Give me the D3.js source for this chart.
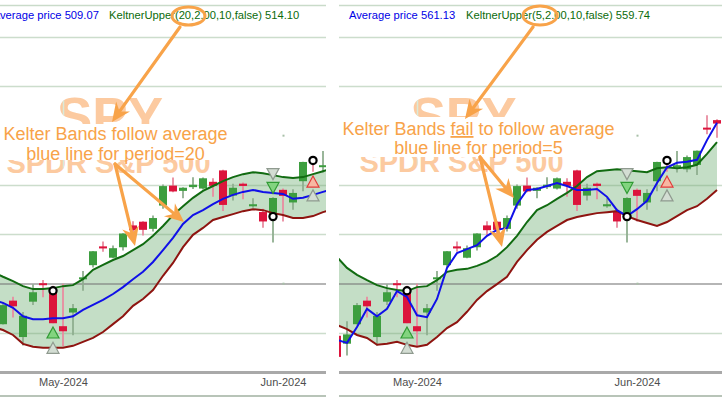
<!DOCTYPE html>
<html><head><meta charset="utf-8">
<script src="https://cdn.jsdelivr.net/npm/d3@7"></script>
<style>
html,body{margin:0;padding:0;background:#fff;}
svg{display:block;}
text{font-family:"Liberation Sans",Arial,sans-serif;}
</style></head><body>
<svg id="c" width="722" height="398"></svg>
<script>
// ---------- DATA (SPY daily) ----------
const dates = ["2024-04-19","2024-04-22","2024-04-23","2024-04-24","2024-04-25","2024-04-26","2024-04-29","2024-04-30",
"2024-05-01","2024-05-02","2024-05-03","2024-05-06","2024-05-07","2024-05-08","2024-05-09","2024-05-10","2024-05-13","2024-05-14",
"2024-05-15","2024-05-16","2024-05-17","2024-05-20","2024-05-21","2024-05-22","2024-05-23","2024-05-24","2024-05-28","2024-05-29",
"2024-05-30","2024-05-31","2024-06-03","2024-06-04","2024-06-05","2024-06-06","2024-06-07","2024-06-10","2024-06-11","2024-06-12","2024-06-13"];
const openP  = [499.44,497.83,501.78,506.56,499.18,506.35,510.09,508.56,501.38,504.15,511.16,513.75,517.56,515.26,517.38,521.81,522.56,521.11,525.83,529.88,528.81,529.57,529.28,530.65,532.96,527.85,530.27,525.68,524.52,523.59,529.02,526.46,530.77,534.98,533.66,533.18,534.07,541.63,543.15];
const highP  = [500.46,502.38,506.09,507.37,504.27,509.88,510.75,509.56,510.00,505.89,512.55,516.61,518.57,517.74,520.21,522.64,522.67,523.83,530.08,531.52,529.52,531.56,531.52,531.38,533.07,530.27,530.51,527.31,525.20,527.50,529.31,529.15,534.69,535.42,536.89,535.99,537.01,544.12,543.33];
const lowP   = [493.86,495.43,501.70,503.13,497.49,505.70,507.25,501.98,497.30,499.55,508.56,513.30,516.45,515.14,516.71,519.59,519.74,520.56,525.18,528.54,527.32,529.17,529.07,527.60,524.72,526.88,527.11,525.37,521.33,518.36,522.60,524.96,528.73,532.68,532.54,532.57,532.05,540.30,539.59];
const closeP = [495.16,499.72,505.65,505.41,503.49,508.26,510.06,501.98,500.35,505.03,511.29,516.57,517.14,517.19,520.17,520.84,520.91,523.30,529.78,528.69,529.45,530.06,531.36,529.83,525.96,529.44,529.81,526.10,522.61,527.37,527.80,528.39,534.67,534.66,534.01,535.66,536.95,541.36,542.45];

// period 20 panel (left)
const avg20   = [null,506.7,506.1,505.1,503.4,502.8,502.8,503.0,503.0,503.4,504.7,505.7,506.7,507.9,509.3,510.9,512.4,514.4,516.8,519.3,522.1,523.9,524.9,526.1,527.2,528.0,528.6,529.0,528.6,528.4,528.2,527.2,527.4,528.0,528.6,529.2,null,null,null];
const upper20 = [null,512.4,511.4,510.5,509.5,508.9,508.9,509.1,509.5,509.7,510.9,512.8,513.8,514.8,515.6,516.8,518.0,519.7,521.7,523.9,525.7,527.4,528.8,529.8,530.8,531.6,532.2,532.6,532.4,532.0,531.6,531.4,531.6,532.2,532.8,533.4,null,null,null];
const lower20 = [null,501.2,500.6,499.6,497.8,497.2,497.0,497.0,497.0,497.4,498.2,499.0,500.2,501.8,503.4,505.5,506.9,508.7,511.6,514.2,517.4,519.9,521.3,522.9,523.5,524.1,524.7,525.1,524.9,524.3,523.9,523.3,523.3,523.7,524.5,525.1,null,null,null];
// period 5 panel (right)
const avg5   = [498.6,498.0,501.2,504.9,503.4,504.9,508.5,507.3,503.6,503.2,506.9,513.2,516.2,517.0,517.8,519.7,520.9,521.3,526.1,529.0,529.2,529.8,530.4,529.8,529.0,529.0,529.2,527.6,524.9,523.7,525.1,526.8,530.4,533.6,534.5,534.7,535.1,539.1,542.6];
const upper5 = [515.4,513.2,511.8,510.7,509.7,509.1,508.7,508.5,509.3,509.5,510.7,512.4,512.8,513.0,513.6,514.4,515.6,517.4,519.7,522.5,524.9,525.9,527.2,528.4,529.8,531.6,532.8,533.0,533.2,533.0,532.8,532.6,533.4,533.6,533.4,533.6,534.1,536.3,538.7];
const lower5 = [501.6,500.8,499.6,499.0,497.6,497.8,498.2,497.6,497.2,497.6,499.2,501.0,502.2,504.3,506.7,508.5,509.9,511.4,514.4,516.8,518.9,520.5,521.7,522.9,523.5,523.9,524.3,524.5,524.7,523.7,522.9,522.3,521.7,522.5,523.7,524.9,525.7,527.2,529.0];

const gridLevels = [500,520,530,550,560];
const refLevel = 510;
const monthTicks = ["2024-05-01","2024-06-03"];
const monthLabels = ["May-2024","Jun-2024"];

const circleMarks = [{d:"2024-04-30",v:508.56},{d:"2024-05-31",v:523.59},{d:"2024-06-06",v:534.98}];
const triMarks = [
  {d:"2024-04-30",v:500.1,dir:"up",kind:"green"},
  {d:"2024-04-30",v:497.0,dir:"up",kind:"gray"},
  {d:"2024-05-31",v:532.2,dir:"down",kind:"gray"},
  {d:"2024-05-31",v:529.4,dir:"down",kind:"green"},
  {d:"2024-06-06",v:530.7,dir:"up",kind:"red"},
  {d:"2024-06-06",v:527.9,dir:"up",kind:"gray"}
];

// ---------- DRAWING ----------
const svg = d3.select("#c");
const y = d3.scaleLinear().domain([500,560]).range([333,37]);
const STEP = 10;
const ORANGE = "#f8a349";

const panels = [
  {x0:0, x1:326, anchor:63, avg:avg20, up:upper20, lo:lower20,
   head:[{t:"Average price 509.07",x:-7.3,c:"#0000e6"},{t:"KeltnerUpper(20,2.00,10,false) 514.10",x:109,c:"#0b6b0b"}],
   wm:{cx:110, spyY:135, subCx:108.5, subY:173}, box:[0,124,232,36],
   ann:{cx:115.5, y1:140, y2:159.5, l1:[["Kelter Bands follow average",false]], l2:"blue line for period=20"},
   ell:{cx:188.5,cy:16,rx:16.5,ry:9},
   arrows:[[180,27,112,122],[115,164,135,246],[115,164,184,222]]},
  {x0:339, x1:722, anchor:417, avg:avg5, up:upper5, lo:lower5,
   head:[{t:"Average price 561.13",x:349,c:"#0000e6"},{t:"KeltnerUpper(5,2.00,10,false) 559.74",x:466,c:"#0b6b0b"}],
   wm:{cx:463.5, spyY:135, subCx:461.5, subY:172}, box:[339,117,283,40],
   ann:{cx:478.5, y1:135, y2:153.5, l1:[["Kelter Bands ",false],["fail",true],[" to follow average",false]], l2:"blue line for period=5"},
   ell:{cx:540,cy:15.5,rx:17,ry:9.5},
   arrows:[[533,27,465,119],[480,157,502,247],[480,157,514,198]]}
];

const defs = svg.append("defs");

panels.forEach((p,pi)=>{
  defs.append("clipPath").attr("id","clip"+pi).append("rect")
    .attr("x",p.x0).attr("y",0).attr("width",p.x1-p.x0).attr("height",398);
  const iMay = dates.indexOf("2024-05-01");
  const x = d3.scalePoint().domain(dates)
    .range([p.anchor - iMay*STEP, p.anchor + (dates.length-1-iMay)*STEP]);

  const g = svg.append("g").attr("clip-path",`url(#clip${pi})`);
  g.append("rect").attr("x",p.x0).attr("y",0).attr("width",p.x1-p.x0).attr("height",398).attr("fill","#fff");

  // top frame line
  g.append("line").attr("x1",p.x0).attr("x2",p.x1).attr("y1",5.5).attr("y2",5.5)
    .attr("stroke","#c9dbc9").attr("stroke-width",1.3);

  // watermark
  const wmClip = defs.append("clipPath").attr("id","wm"+pi);
  [[p.wm.cx,p.wm.spyY,53,"SPY"],[p.wm.subCx,p.wm.subY,29,"SPDR S&P 500"]].forEach(w=>{
    g.append("text").attr("x",w[0]).attr("y",w[1]).attr("text-anchor","middle")
      .attr("font-size",w[2]).attr("font-weight","bold").attr("fill","#fccaa0").text(w[3]);
    wmClip.append("text").attr("x",w[0]).attr("y",w[1]).attr("text-anchor","middle")
      .attr("font-size",w[2]).attr("font-weight","bold").text(w[3]);
  });

  // faint vertical month lines, visible only across the watermark letters
  g.append("g").attr("clip-path",`url(#wm${pi})`).selectAll(".vl").data(monthTicks).enter().append("line")
    .attr("x1",d=>x(d)+0.5).attr("x2",d=>x(d)+0.5).attr("y1",90).attr("y2",180)
    .attr("stroke","#d9ead9").attr("stroke-width",1.5);

  // annotation background box
  g.append("rect").attr("x",p.box[0]).attr("y",p.box[1]).attr("width",p.box[2]).attr("height",p.box[3]).attr("fill","#fff");

  // band fill
  const area = d3.area().defined((d,i)=>p.up[i]!=null && p.lo[i]!=null)
    .x((d,i)=>x(dates[i])).y0((d,i)=>y(p.lo[i])).y1((d,i)=>y(p.up[i]));
  g.append("path").attr("d",area(dates)).attr("fill","#c4dec6");

  // horizontal gridlines
  g.selectAll(".gl").data(gridLevels).enter().append("line")
    .attr("x1",p.x0).attr("x2",p.x1).attr("y1",d=>Math.round(y(d))+0.5).attr("y2",d=>Math.round(y(d))+0.5)
    .attr("stroke","rgba(120,165,120,0.38)").attr("stroke-width",1.3);
  g.append("line").attr("x1",p.x0).attr("x2",p.x1).attr("y1",Math.round(y(refLevel))).attr("y2",Math.round(y(refLevel)))
    .attr("stroke","rgba(120,120,120,0.55)").attr("stroke-width",2);
  // dots of vertical grid
  [540,510].forEach(v=>{
    g.append("rect").attr("x",x(monthTicks[1])-0.5).attr("y",y(v)-1).attr("width",2).attr("height",2).attr("fill","#a8c0a8");
  });

  // candles
  const cg = g.append("g");
  dates.forEach((d,i)=>{
    const up = closeP[i] >= openP[i];
    const xc = x(d);
    cg.append("line").attr("x1",xc).attr("x2",xc).attr("y1",y(highP[i])).attr("y2",y(lowP[i]))
      .attr("stroke", up ? "#8fae8f" : "#e98ca0").attr("stroke-width",1.8);
    const yt = Math.min(y(openP[i]),y(closeP[i]));
    const h = Math.max(Math.abs(y(openP[i])-y(closeP[i])),2);
    cg.append("rect").attr("x",xc-4).attr("y",yt).attr("width",8).attr("height",h)
      .attr("fill", up ? "#3d9e3f" : "#dc143c");
  });

  // lines
  const mk = arr => d3.line().defined((d,i)=>arr[i]!=null).x((d,i)=>x(dates[i])).y((d,i)=>y(arr[i]));
  g.append("path").attr("d",mk(p.lo)(dates)).attr("fill","none").attr("stroke","#8e1410").attr("stroke-width",2);
  g.append("path").attr("d",mk(p.up)(dates)).attr("fill","none").attr("stroke","#116b11").attr("stroke-width",2);
  g.append("path").attr("d",mk(p.avg)(dates)).attr("fill","none").attr("stroke","#1010e8").attr("stroke-width",2);

  // markers
  const triStyle = {green:["#82d47f","#2f9a33"], gray:["#d3ddd3","#8f9a8f"], red:["#f7b7a2","#e23a3a"]};
  triMarks.forEach(t=>{
    const xc = x(t.d), yc = y(t.v), w=6, h=5.5;
    const dpath = t.dir==="up"
      ? `M${xc},${yc-h} L${xc+w},${yc+h} L${xc-w},${yc+h} Z`
      : `M${xc},${yc+h} L${xc+w},${yc-h} L${xc-w},${yc-h} Z`;
    g.append("path").attr("d",dpath).attr("fill",triStyle[t.kind][0]).attr("stroke",triStyle[t.kind][1]).attr("stroke-width",1.2);
  });
  circleMarks.forEach(c=>{
    g.append("circle").attr("cx",x(c.d)).attr("cy",y(c.v)).attr("r",3.6)
      .attr("fill","#fff").attr("stroke","#000").attr("stroke-width",2.2);
  });

  // x axis
  g.append("line").attr("x1",p.x0).attr("x2",p.x1).attr("y1",372.5).attr("y2",372.5).attr("stroke","#a9a9a9").attr("stroke-width",3);
  g.append("line").attr("x1",p.x0).attr("x2",p.x1).attr("y1",396).attr("y2",396).attr("stroke","#b8c4b8").attr("stroke-width",2);
  const ax = d3.axisBottom(x).tickValues(monthTicks).tickSize(0).tickPadding(5)
    .tickFormat(d=>monthLabels[monthTicks.indexOf(d)]);
  const axg = g.append("g").attr("transform","translate(0,373)").call(ax);
  axg.select(".domain").remove();
  axg.selectAll("text").attr("font-size",11).attr("fill","#4d4d4d").attr("font-family","Liberation Sans, Arial, sans-serif");

  // header
  p.head.forEach(h=>{
    g.append("text").attr("x",h.x).attr("y",19).attr("font-size",11.2).attr("fill",h.c).text(h.t);
  });

  // annotation text
  const t1 = g.append("text").attr("x",p.ann.cx).attr("y",p.ann.y1).attr("text-anchor","middle")
    .attr("font-size",18).attr("fill",ORANGE);
  p.ann.l1.forEach(s=>{
    const ts = t1.append("tspan").text(s[0]);
    if(s[1]) ts.attr("text-decoration","underline");
  });
  g.append("text").attr("x",p.ann.cx).attr("y",p.ann.y2).attr("text-anchor","middle")
    .attr("font-size",18).attr("fill",ORANGE).text(p.ann.l2);

  // arrows
  p.arrows.forEach(a=>{
    const [x1,y1,x2,y2]=a;
    const dx=x2-x1, dy=y2-y1, len=Math.hypot(dx,dy), ux=dx/len, uy=dy/len, nx=-uy, ny=ux;
    const L=19, W=8.5, N=6;
    const bx=x2-ux*L, by=y2-uy*L, qx=x2-ux*(L-N), qy=y2-uy*(L-N);
    g.append("line").attr("x1",x1).attr("y1",y1).attr("x2",qx).attr("y2",qy)
      .attr("stroke",ORANGE).attr("stroke-width",3.2).attr("stroke-linecap","round");
    g.append("path").attr("d",`M${x2},${y2} L${bx+nx*W},${by+ny*W} L${qx},${qy} L${bx-nx*W},${by-ny*W} Z`)
      .attr("fill",ORANGE);
  });
  g.append("ellipse").attr("cx",p.ell.cx).attr("cy",p.ell.cy).attr("rx",p.ell.rx).attr("ry",p.ell.ry)
    .attr("fill","none").attr("stroke",ORANGE).attr("stroke-width",3);
});
</script>
</body></html>
